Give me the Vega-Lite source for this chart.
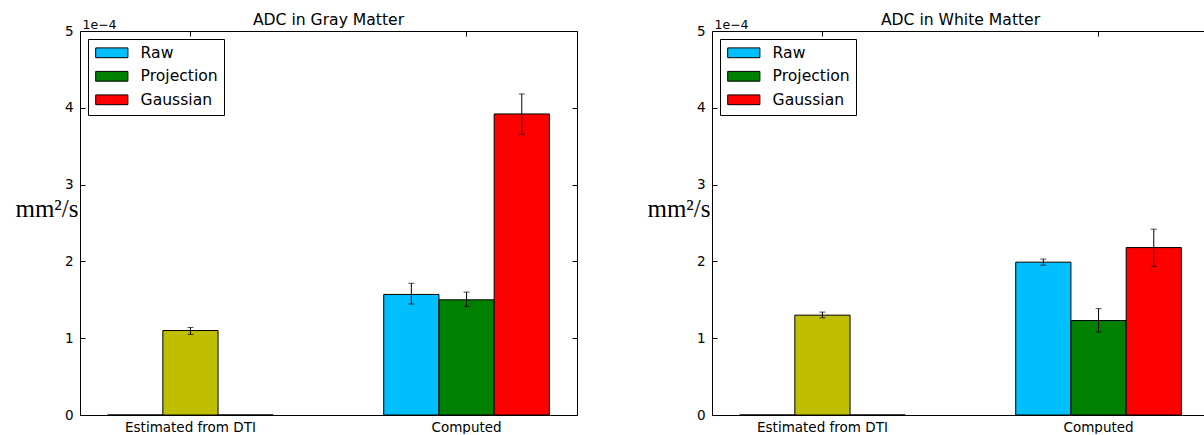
{
  "$schema": "https://vega.github.io/schema/vega-lite/v6.json",
  "background": "white",
  "padding": {"left": 14, "top": 12, "right": 0, "bottom": 0},
  "datasets": {
    "adc": [
      {"matter": "Gray", "group": "Estimated from DTI", "series": "Raw", "kind": "Raw", "value": 0},
      {"matter": "Gray", "group": "Estimated from DTI", "series": "Projection", "kind": "DTI", "value": 1.10, "lo": 1.05, "hi": 1.14},
      {"matter": "Gray", "group": "Estimated from DTI", "series": "Gaussian", "kind": "Gaussian", "value": 0},
      {"matter": "Gray", "group": "Computed", "series": "Raw", "kind": "Raw", "value": 1.57, "lo": 1.445, "hi": 1.715},
      {"matter": "Gray", "group": "Computed", "series": "Projection", "kind": "Projection", "value": 1.50, "lo": 1.415, "hi": 1.60},
      {"matter": "Gray", "group": "Computed", "series": "Gaussian", "kind": "Gaussian", "value": 3.92, "lo": 3.655, "hi": 4.18},
      {"matter": "White", "group": "Estimated from DTI", "series": "Raw", "kind": "Raw", "value": 0},
      {"matter": "White", "group": "Estimated from DTI", "series": "Projection", "kind": "DTI", "value": 1.30, "lo": 1.265, "hi": 1.34},
      {"matter": "White", "group": "Estimated from DTI", "series": "Gaussian", "kind": "Gaussian", "value": 0},
      {"matter": "White", "group": "Computed", "series": "Raw", "kind": "Raw", "value": 1.99, "lo": 1.95, "hi": 2.03},
      {"matter": "White", "group": "Computed", "series": "Projection", "kind": "Projection", "value": 1.23, "lo": 1.08, "hi": 1.385},
      {"matter": "White", "group": "Computed", "series": "Gaussian", "kind": "Gaussian", "value": 2.18, "lo": 1.935, "hi": 2.42}
    ]
  },
  "data": {"name": "adc"},
  "config": {
    "view": {"stroke": "black", "strokeWidth": 1},
    "title": {"font": "DejaVu Sans", "fontSize": 15.6, "fontWeight": "normal", "color": "black", "offset": -11, "anchor": "middle"},
    "axis": {"labelFont": "DejaVu Sans", "labelFontSize": 13.5, "labelColor": "black", "tickColor": "black", "domain": false, "grid": false, "tickSize": -5, "labelPadding": 12},
    "legend": {
      "orient": "top-left", "offset": 8, "strokeColor": "black", "fillColor": "white", "padding": 6,
      "labelFont": "DejaVu Sans", "labelFontSize": 15.6, "labelColor": "black",
      "symbolType": "M-2.3,-0.7H2.3V0.7H-2.3Z", "symbolSize": 196, "symbolStrokeColor": "black", "symbolStrokeWidth": 1,
      "symbolOffset": 10, "rowPadding": 6.5, "labelOffset": 21
    }
  },
  "spacing": 68,
  "resolve": {"legend": {"color": "independent"}},
  "hconcat": [
    {
      "width": 497, "height": 384,
      "title": {"text": "ADC in Gray Matter"},
      "transform": [{"filter": "datum.matter === 'Gray'"}],
      "resolve": {"axis": {"x": "independent", "y": "independent"}},
      "layer": [
        {
          "mark": {"type": "bar", "stroke": "black", "strokeWidth": 1},
          "encoding": {
            "x": {"field": "group", "type": "nominal", "scale": {"domain": ["Estimated from DTI", "Computed"], "paddingInner": 0.4, "paddingOuter": 0.1}, "axis": {"orient": "bottom", "title": null, "labelAngle": 0, "labelPadding": 10}},
            "xOffset": {"field": "series", "type": "nominal", "scale": {"domain": ["Raw", "Projection", "Gaussian"], "paddingInner": 0, "paddingOuter": 0}},
            "y": {"field": "value", "type": "quantitative", "scale": {"domain": [0, 5], "nice": false}, "axis": {"orient": "left", "values": [0, 1, 2, 3, 4, 5], "format": "d", "title": "mm²/s", "titleFont": "Liberation Serif", "titleFontSize": 25, "titleFontWeight": "normal", "titleColor": "black", "titleAngle": 0, "titleAlign": "right", "titleBaseline": "alphabetic", "titleX": -2, "titleY": 185}},
            "color": {"field": "kind", "type": "nominal", "scale": {"domain": ["Raw", "Projection", "Gaussian", "DTI"], "range": ["#00BFFF", "#008000", "#FF0000", "#BFBF00"]}, "legend": {"values": ["Raw", "Projection", "Gaussian"], "title": null}}
          }
        },
        {
          "mark": {"type": "rule", "color": "black", "strokeWidth": 1},
          "encoding": {
            "x": {"field": "group", "type": "nominal", "axis": {"orient": "top", "labels": false, "title": null}},
            "xOffset": {"field": "series", "type": "nominal"},
            "y": {"field": "lo", "type": "quantitative", "axis": {"orient": "right", "labels": false, "values": [0, 1, 2, 3, 4, 5], "title": "1e−4", "titleFont": "DejaVu Sans", "titleFontSize": 12.5, "titleFontWeight": "normal", "titleColor": "black", "titleAngle": 0, "titleAlign": "left", "titleBaseline": "alphabetic", "titleX": -495, "titleY": -3}},
            "y2": {"field": "hi"}
          }
        },
        {
          "mark": {"type": "tick", "color": "black", "size": 6, "thickness": 1},
          "encoding": {
            "x": {"field": "group", "type": "nominal", "axis": null},
            "xOffset": {"field": "series", "type": "nominal"},
            "y": {"field": "lo", "type": "quantitative", "axis": null}
          }
        },
        {
          "mark": {"type": "tick", "color": "black", "size": 6, "thickness": 1},
          "encoding": {
            "x": {"field": "group", "type": "nominal", "axis": null},
            "xOffset": {"field": "series", "type": "nominal"},
            "y": {"field": "hi", "type": "quantitative", "axis": null}
          }
        }
      ]
    },
    {
      "width": 497, "height": 384,
      "title": {"text": "ADC in White Matter"},
      "transform": [{"filter": "datum.matter === 'White'"}],
      "resolve": {"axis": {"x": "independent", "y": "independent"}},
      "layer": [
        {
          "mark": {"type": "bar", "stroke": "black", "strokeWidth": 1},
          "encoding": {
            "x": {"field": "group", "type": "nominal", "scale": {"domain": ["Estimated from DTI", "Computed"], "paddingInner": 0.4, "paddingOuter": 0.1}, "axis": {"orient": "bottom", "title": null, "labelAngle": 0, "labelPadding": 10}},
            "xOffset": {"field": "series", "type": "nominal", "scale": {"domain": ["Raw", "Projection", "Gaussian"], "paddingInner": 0, "paddingOuter": 0}},
            "y": {"field": "value", "type": "quantitative", "scale": {"domain": [0, 5], "nice": false}, "axis": {"orient": "left", "values": [0, 1, 2, 3, 4, 5], "format": "d", "title": "mm²/s", "titleFont": "Liberation Serif", "titleFontSize": 25, "titleFontWeight": "normal", "titleColor": "black", "titleAngle": 0, "titleAlign": "right", "titleBaseline": "alphabetic", "titleX": -2, "titleY": 185}},
            "color": {"field": "kind", "type": "nominal", "scale": {"domain": ["Raw", "Projection", "Gaussian", "DTI"], "range": ["#00BFFF", "#008000", "#FF0000", "#BFBF00"]}, "legend": {"values": ["Raw", "Projection", "Gaussian"], "title": null}}
          }
        },
        {
          "mark": {"type": "rule", "color": "black", "strokeWidth": 1},
          "encoding": {
            "x": {"field": "group", "type": "nominal", "axis": {"orient": "top", "labels": false, "title": null}},
            "xOffset": {"field": "series", "type": "nominal"},
            "y": {"field": "lo", "type": "quantitative", "axis": {"orient": "right", "labels": false, "values": [0, 1, 2, 3, 4, 5], "title": "1e−4", "titleFont": "DejaVu Sans", "titleFontSize": 12.5, "titleFontWeight": "normal", "titleColor": "black", "titleAngle": 0, "titleAlign": "left", "titleBaseline": "alphabetic", "titleX": -495, "titleY": -3}},
            "y2": {"field": "hi"}
          }
        },
        {
          "mark": {"type": "tick", "color": "black", "size": 6, "thickness": 1},
          "encoding": {
            "x": {"field": "group", "type": "nominal", "axis": null},
            "xOffset": {"field": "series", "type": "nominal"},
            "y": {"field": "lo", "type": "quantitative", "axis": null}
          }
        },
        {
          "mark": {"type": "tick", "color": "black", "size": 6, "thickness": 1},
          "encoding": {
            "x": {"field": "group", "type": "nominal", "axis": null},
            "xOffset": {"field": "series", "type": "nominal"},
            "y": {"field": "hi", "type": "quantitative", "axis": null}
          }
        }
      ]
    }
  ]
}
